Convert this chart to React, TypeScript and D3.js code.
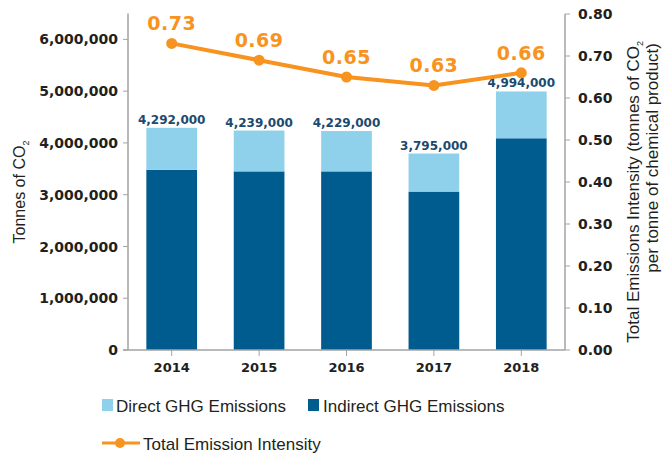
import React from 'react';
import * as d3 from 'd3';

const years = ['2014', '2015', '2016', '2017', '2018'];
const indirectEmissions = [3480000, 3450000, 3450000, 3060000, 4090000];
const directEmissions = [812000, 789000, 779000, 735000, 904000];
const totalEmissions = [4292000, 4239000, 4229000, 3795000, 4994000];
const intensity = [0.73, 0.69, 0.65, 0.63, 0.66];
const leftTicks = [0, 1000000, 2000000, 3000000, 4000000, 5000000, 6000000];
const rightTicks = [0, 0.1, 0.2, 0.3, 0.4, 0.5, 0.6, 0.7, 0.8];

const LIGHT = '#8fd0ea';
const DARK = '#005b8f';
const ORANGE = '#f7931e';
const AXIS = '#a3a3a6';
const TEXT = '#231f20';
const NUM_FONT = '"DejaVu Sans", sans-serif';
const LABEL_FONT = '"Liberation Sans", Arial, sans-serif';

const App = () => {
  const width = 668;
  const height = 455;
  const left = 128;
  const right = 565;
  const bottom = 350;

  const x = d3.scaleBand<string>().domain(years).range([left, right]).paddingInner(0.42).paddingOuter(0.21);
  const yL = d3.scaleLinear().domain([0, 6500000]).range([bottom, 13.5]);
  const yR = d3.scaleLinear().domain([0, 0.8]).range([bottom, 14]);
  const fmt = d3.format(',');
  const cx = (d: string) => (x(d) as number) + x.bandwidth() / 2;

  const line = d3.line<number>()
    .x((_, i) => cx(years[i]))
    .y((d) => yR(d));

  return (
    <svg width={width} height={height} style={{ position: 'absolute', left: 0, top: 0, background: '#fff' }}>
      {/* bars */}
      {years.map((yr, i) => (
        <g key={yr}>
          <rect x={x(yr)} width={x.bandwidth()} y={yL(indirectEmissions[i])}
            height={bottom - yL(indirectEmissions[i])} fill={DARK} />
          <rect x={x(yr)} width={x.bandwidth()} y={yL(indirectEmissions[i] + directEmissions[i])}
            height={yL(indirectEmissions[i]) - yL(indirectEmissions[i] + directEmissions[i])} fill={LIGHT} />
          <text x={cx(yr)} y={yL(totalEmissions[i]) - 4} textAnchor="middle" fontFamily={NUM_FONT}
            fontWeight="bold" fontSize={12} fill="#1b4a6e">{fmt(totalEmissions[i])}</text>
        </g>
      ))}

      {/* left axis */}
      <line x1={left} x2={left} y1={13.5} y2={bottom} stroke={AXIS} strokeWidth={1.5} />
      {leftTicks.map((t) => (
        <g key={t}>
          <line x1={left - 5} x2={left} y1={yL(t)} y2={yL(t)} stroke={AXIS} strokeWidth={1} />
          <text x={left - 10} y={yL(t)} dy="0.36em" textAnchor="end" fontFamily={NUM_FONT}
            fontWeight="bold" fontSize={14} fill={TEXT}>{fmt(t)}</text>
        </g>
      ))}

      {/* right axis */}
      <line x1={right} x2={right} y1={14} y2={bottom} stroke={AXIS} strokeWidth={1.5} />
      {rightTicks.map((t) => (
        <g key={t}>
          <line x1={right} x2={right + 5} y1={yR(t)} y2={yR(t)} stroke={AXIS} strokeWidth={1} />
          <text x={right + 13} y={yR(t)} dy="0.36em" fontFamily={NUM_FONT}
            fontWeight="bold" fontSize={14} fill={TEXT}>{t.toFixed(2)}</text>
        </g>
      ))}

      {/* bottom axis */}
      <line x1={left - 5} x2={right} y1={bottom} y2={bottom} stroke={AXIS} strokeWidth={1.5} />
      {years.map((yr) => (
        <g key={yr}>
          <line x1={cx(yr)} x2={cx(yr)} y1={bottom} y2={bottom + 6} stroke={AXIS} strokeWidth={1} />
          <text x={cx(yr)} y={bottom + 22} textAnchor="middle" fontFamily={NUM_FONT}
            fontWeight="bold" fontSize={13} fill={TEXT}>{yr}</text>
        </g>
      ))}

      {/* intensity line */}
      <path d={line(intensity) || ''} fill="none" stroke={ORANGE} strokeWidth={4} />
      {intensity.map((v, i) => (
        <g key={i}>
          <circle cx={cx(years[i])} cy={yR(v)} r={5.5} fill={ORANGE} />
          <text x={cx(years[i])} y={yR(v) - 13} textAnchor="middle" fontFamily={NUM_FONT}
            fontWeight="bold" fontSize={19} letterSpacing={0.5} fill={ORANGE}>{v.toFixed(2)}</text>
        </g>
      ))}

      {/* axis titles */}
      <text transform="translate(25,192) rotate(-90)" textAnchor="middle" fontFamily={LABEL_FONT}
        fontSize={16} fill={TEXT}>
        Tonnes of CO<tspan fontSize={9} dy={4}>2</tspan>
      </text>
      <text transform="translate(639,41) rotate(-90)" textAnchor="end" fontFamily={LABEL_FONT}
        fontSize={17} fill={TEXT}>
        Total Emissions Intensity (tonnes of CO<tspan fontSize={9} dy={4}>2</tspan>
      </text>
      <text transform="translate(658,43) rotate(-90)" textAnchor="end" fontFamily={LABEL_FONT}
        fontSize={17} fill={TEXT}>
        per tonne of chemical product)
      </text>

      {/* legend */}
      <rect x={102} y={399} width={11} height={12} fill={LIGHT} />
      <text x={116} y={411.5} fontFamily={LABEL_FONT} fontSize={17} fill={TEXT}>Direct GHG Emissions</text>
      <rect x={308} y={399} width={11} height={12} fill={DARK} />
      <text x={323} y={411.5} fontFamily={LABEL_FONT} fontSize={17} fill={TEXT}>Indirect GHG Emissions</text>
      <line x1={102} x2={140} y1={443} y2={443} stroke={ORANGE} strokeWidth={3} />
      <circle cx={120} cy={443} r={5} fill={ORANGE} />
      <text x={143} y={449.5} fontFamily={LABEL_FONT} fontSize={17} fill={TEXT}>Total Emission Intensity</text>
    </svg>
  );
};

export default App;
